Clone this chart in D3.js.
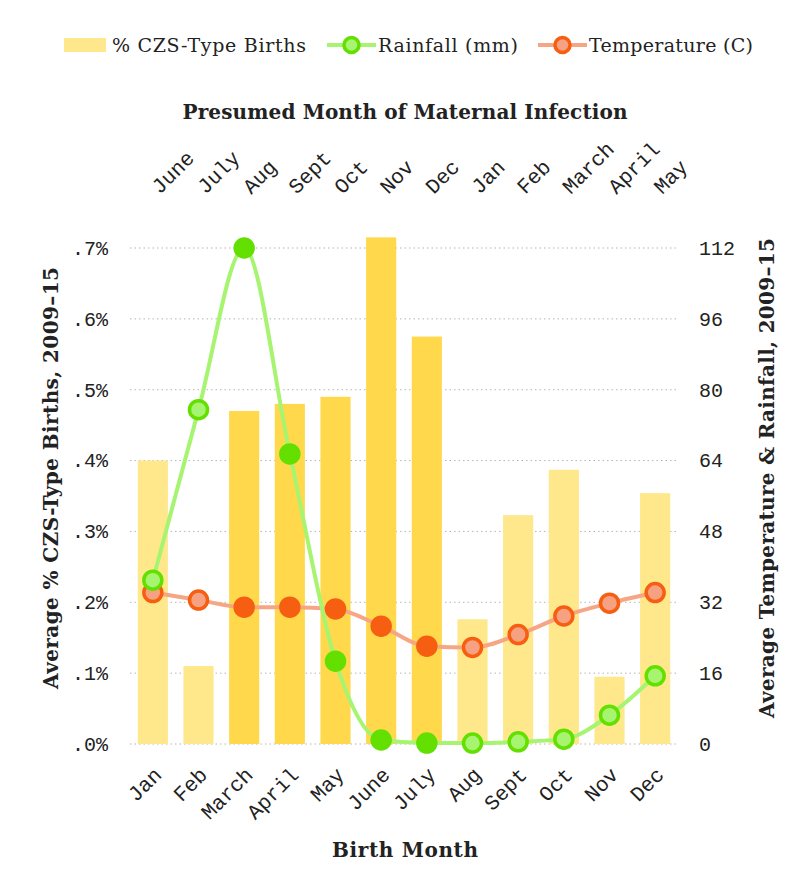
<!DOCTYPE html>
<html>
<head>
<meta charset="utf-8">
<script src="https://cdn.jsdelivr.net/npm/d3@7"></script>
<style>
  body { margin: 0; background: #fff; }
  svg { display: block; }
</style>
</head>
<body>
<svg id="chart"></svg>
<script>
// birth months (bottom axis) and presumed infection months (top axis)
const birthMonths = ["Jan", "Feb", "March", "April", "May", "June", "July", "Aug", "Sept", "Oct", "Nov", "Dec"];
const infectionMonths = ["June", "July", "Aug", "Sept", "Oct", "Nov", "Dec", "Jan", "Feb", "March", "April", "May"];

// % CZS-type births per birth month
const czsPct = [0.40, 0.11, 0.47, 0.48, 0.49, 0.715, 0.575, 0.176, 0.323, 0.387, 0.095, 0.354];
// rainfall (mm) and temperature (C)
const rainfall = [37, 75.5, 112, 65.5, 18.7, 0.9, 0.2, 0.2, 0.5, 1.1, 6.5, 15.4];
const temperature = [34.2, 32.5, 30.9, 30.9, 30.5, 26.6, 22.1, 21.8, 24.7, 28.9, 31.8, 34.2];
// months highlighted (March - July)
const highlight = [false, false, true, true, true, true, true, false, false, false, false, false];

const leftTicks = [0, 0.1, 0.2, 0.3, 0.4, 0.5, 0.6, 0.7];
const rightTicks = [0, 16, 32, 48, 64, 80, 96, 112];

const width = 812;
const height = 893;
const plot = { left: 130, right: 678, top: 248, bottom: 744 };

const serif = "'DejaVu Serif', 'Liberation Serif', serif";
const mono = "'Liberation Mono', 'DejaVu Sans Mono', monospace";

const col = {
  barLight: "#fee88b",
  barDark: "#ffd94b",
  rainLine: "#a6f470",
  rainDark: "#63df00",
  tempLine: "#f6a684",
  tempDark: "#f65f12",
  tempLight: "#f7a183",
  grid: "#b5b5b5",
  text: "#222"
};

const svg = d3.select("#chart").attr("width", width).attr("height", height);

const x = d3.scaleBand()
  .domain(d3.range(12))
  .range([plot.left, plot.right])
  .paddingInner(0.34)
  .paddingOuter(0.17);

const yLeft = d3.scaleLinear().domain([0, 0.7]).range([plot.bottom, plot.top]);
const yRight = d3.scaleLinear().domain([0, 112]).range([plot.bottom, plot.top]);

const cx = i => x(i) + x.bandwidth() / 2;

// gridlines
svg.append("g")
  .selectAll("line")
  .data(leftTicks)
  .enter()
  .append("line")
  .attr("x1", plot.left)
  .attr("x2", plot.right)
  .attr("y1", d => yLeft(d))
  .attr("y2", d => yLeft(d))
  .attr("stroke", col.grid)
  .attr("stroke-width", 1)
  .attr("stroke-dasharray", "1.5,3");

// bars
svg.append("g")
  .selectAll("rect")
  .data(czsPct)
  .enter()
  .append("rect")
  .attr("x", (d, i) => x(i))
  .attr("y", d => yLeft(d))
  .attr("width", x.bandwidth())
  .attr("height", d => plot.bottom - yLeft(d))
  .attr("fill", (d, i) => highlight[i] ? col.barDark : col.barLight);

// lines + markers
const drawSeries = (values, scale, lineColor, dark, light) => {
  const line = d3.line()
    .x((d, i) => cx(i))
    .y(d => scale(d))
    .curve(d3.curveMonotoneX);
  svg.append("path")
    .datum(values)
    .attr("d", line)
    .attr("fill", "none")
    .attr("stroke", lineColor)
    .attr("stroke-width", 4);
  svg.append("g")
    .selectAll("circle")
    .data(values)
    .enter()
    .append("circle")
    .attr("cx", (d, i) => cx(i))
    .attr("cy", d => scale(d))
    .attr("r", 9)
    .attr("fill", (d, i) => highlight[i] ? dark : light)
    .attr("stroke", dark)
    .attr("stroke-width", 3.5);
};

drawSeries(temperature, yRight, col.tempLine, col.tempDark, col.tempLight);
drawSeries(rainfall, yRight, col.rainLine, col.rainDark, col.rainLine);

// left axis
const leftAxis = d3.axisLeft(yLeft)
  .tickValues(leftTicks)
  .tickSize(0)
  .tickPadding(0)
  .tickFormat(d => "." + Math.round(d * 10) + "%");
svg.append("g")
  .attr("transform", "translate(108,0)")
  .call(leftAxis)
  .call(g => g.select(".domain").remove())
  .selectAll("text")
  .attr("font-family", mono)
  .attr("font-size", 20)
  .attr("fill", col.text);

// right axis
const rightAxis = d3.axisRight(yRight)
  .tickValues(rightTicks)
  .tickSize(0)
  .tickPadding(0);
svg.append("g")
  .attr("transform", "translate(699,0)")
  .call(rightAxis)
  .call(g => g.select(".domain").remove())
  .selectAll("text")
  .attr("font-family", mono)
  .attr("font-size", 20)
  .attr("fill", col.text);

// bottom month labels
svg.append("g")
  .selectAll("text")
  .data(birthMonths)
  .enter()
  .append("text")
  .attr("transform", (d, i) => "translate(" + (cx(i) + 10) + ",776) rotate(-45)")
  .attr("text-anchor", "end")
  .attr("font-family", mono)
  .attr("font-size", 21)
  .attr("fill", col.text)
  .text(d => d);

// top month labels
svg.append("g")
  .selectAll("text")
  .data(infectionMonths)
  .enter()
  .append("text")
  .attr("transform", (d, i) => "translate(" + (cx(i) + 7) + ",195) rotate(-45)")
  .attr("text-anchor", "start")
  .attr("font-family", mono)
  .attr("font-size", 21)
  .attr("fill", col.text)
  .text(d => d);

// axis titles
const title = (tf, label, len) => {
  svg.append("text")
    .attr("transform", tf)
    .attr("text-anchor", "middle")
    .attr("font-family", serif)
    .attr("font-weight", "bold")
    .attr("font-size", 20)
    .attr("fill", col.text)
    .attr("textLength", len)
    .attr("lengthAdjust", "spacing")
    .text(label);
};
title("translate(405,119)", "Presumed Month of Maternal Infection", 445);
title("translate(405,857)", "Birth Month", 146);
title("translate(58,478) rotate(-90)", "Average % CZS-Type Births, 2009–15", 422);
title("translate(774,478) rotate(-90)", "Average Temperature & Rainfall, 2009–15", 480);

// legend
const legend = svg.append("g");
legend.append("rect")
  .attr("x", 64).attr("y", 38).attr("width", 42).attr("height", 14)
  .attr("fill", col.barLight);

const legendText = (tx, label, len) => {
  legend.append("text")
    .attr("x", tx).attr("y", 52)
    .attr("font-family", serif).attr("font-size", 19).attr("fill", col.text)
    .attr("textLength", len)
    .attr("lengthAdjust", "spacing")
    .text(label);
};
const legendLine = (x0, x1, lineColor, dark, light) => {
  legend.append("line")
    .attr("x1", x0).attr("x2", x1).attr("y1", 45).attr("y2", 45)
    .attr("stroke", lineColor).attr("stroke-width", 4);
  legend.append("circle")
    .attr("cx", (x0 + x1) / 2).attr("cy", 45).attr("r", 7.5)
    .attr("fill", light).attr("stroke", dark).attr("stroke-width", 3.5);
};
legendText(112, "% CZS-Type Births", 194);
legendLine(327, 376, col.rainLine, col.rainDark, col.rainLine);
legendText(378, "Rainfall (mm)", 140);
legendLine(538, 587, col.tempLine, col.tempDark, col.tempLight);
legendText(589, "Temperature (C)", 164);
</script>
</body>
</html>
